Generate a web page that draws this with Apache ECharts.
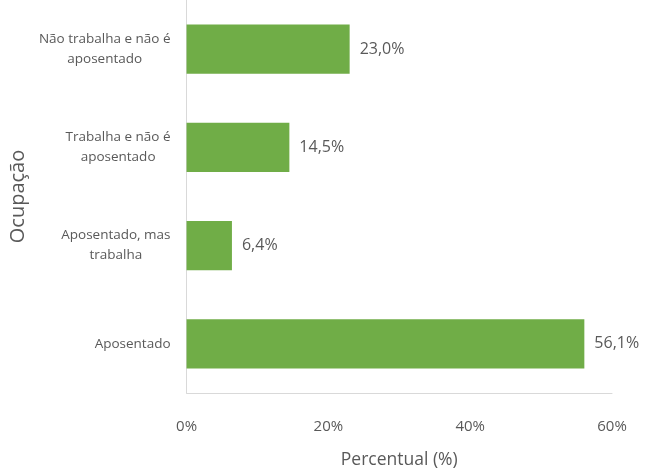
<!DOCTYPE html>
<html>
<head>
<meta charset="utf-8">
<script src="https://cdn.jsdelivr.net/npm/echarts@6/dist/echarts.min.js"></script>
<style>
  html, body { margin: 0; padding: 0; background: #ffffff; }
  #chart { width: 645px; height: 474px; }
</style>
</head>
<body>
<div id="chart"></div>
<script>
// Occupation categories, listed bottom to top as the category axis draws them
const categories = [
  'Aposentado',
  'Aposentado, mas\ntrabalha',
  'Trabalha e não é\naposentado',
  'Não trabalha e não é\naposentado'
];
// Share of respondents in each category (%)
const values = [56.1, 6.4, 14.5, 23.0];
// Horizontal axis ticks (%)
const xTicks = [0, 20, 40, 60];

const FONT = '"Open Sans", "Noto Sans", sans-serif';
const GREY = '#595959';

const chart = echarts.init(document.getElementById('chart'), null, { renderer: 'canvas' });

chart.setOption({
  backgroundColor: '#ffffff',
  animation: false,
  grid: { left: 181, right: 33, top: 0, bottom: 74, containLabel: false },
  xAxis: {
    type: 'value',
    min: xTicks[0],
    max: xTicks[xTicks.length - 1],
    interval: xTicks[1] - xTicks[0],
    name: 'Percentual (%)',
    nameLocation: 'middle',
    nameGap: 58,
    nameTextStyle: { color: GREY, fontSize: 17.5, fontFamily: FONT },
    axisLine: { show: true, lineStyle: { color: '#d9d9d9', width: 1 } },
    axisTick: { show: false },
    splitLine: { show: false },
    axisLabel: {
      color: GREY, fontSize: 15, fontFamily: FONT, margin: 26,
      formatter: v => v + '%'
    }
  },
  yAxis: {
    type: 'category',
    data: categories,
    name: 'Ocupação',
    nameLocation: 'middle',
    nameGap: 146,
    nameRotate: 90,
    nameTextStyle: { color: GREY, fontSize: 20, fontFamily: FONT },
    axisLine: { show: true, lineStyle: { color: '#d9d9d9', width: 1 } },
    axisTick: { show: false },
    splitLine: { show: false },
    axisLabel: {
      margin: 16,
      align: 'right',
      lineHeight: 20,
      formatter: v => v.split('\n').map(l => '{c|' + l + '}').join('\n'),
      rich: {
        c: { align: 'center', color: GREY, fontSize: 13.5, fontFamily: FONT, lineHeight: 20 }
      }
    }
  },
  series: [{
    type: 'bar',
    data: values,
    barWidth: '50%',
    itemStyle: { color: '#70ad47' },
    label: {
      show: true,
      position: 'right',
      distance: 10,
      color: GREY,
      fontSize: 16,
      fontFamily: FONT,
      formatter: p => p.value.toFixed(1).replace('.', ',') + '%'
    }
  }]
});
</script>
</body>
</html>
